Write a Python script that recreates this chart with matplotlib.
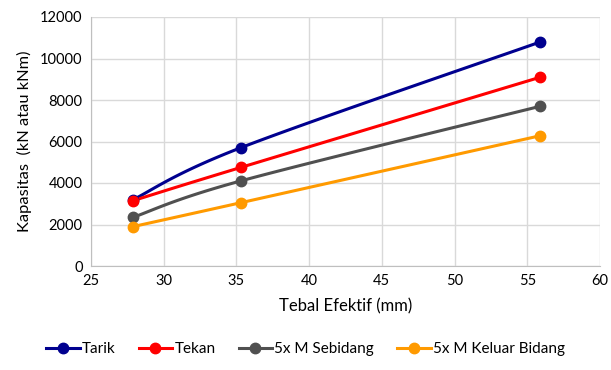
import numpy as np
import matplotlib
matplotlib.use("Agg")
import matplotlib.pyplot as plt

plt.rcParams['font.family'] = ['Lato', 'DejaVu Sans']

x_vals = [27.9, 35.3, 55.9]
tarik = [3200, 5700, 10800]
tekan = [3150, 4750, 9100]
sebidang = [2350, 4100, 7700]
keluar = [1900, 3050, 6280]
labels = ["Tarik", "Tekan", "5x M Sebidang", "5x M Keluar Bidang"]
colors = ["#00008F", "#FF0000", "#505050", "#FF9A00"]
x_ticks = [25, 30, 35, 40, 45, 50, 55, 60]
y_ticks = [0, 2000, 4000, 6000, 8000, 10000, 12000]


def smooth(xs, ys, n=40):
    xs = np.asarray(xs, float)
    ys = np.asarray(ys, float)
    pts = np.column_stack([xs, ys])
    out = [pts[0]]
    for i in range(len(pts) - 1):
        p0 = pts[i - 1] if i > 0 else pts[i]
        p1 = pts[i]
        p2 = pts[i + 1]
        p3 = pts[i + 2] if i + 2 < len(pts) else pts[i + 1]
        c1 = p1 + (p2 - p0) / 6.0
        c2 = p2 - (p3 - p1) / 6.0
        t = np.linspace(0, 1, n)[1:, None]
        seg = ((1 - t) ** 3) * p1 + 3 * ((1 - t) ** 2) * t * c1 + 3 * (1 - t) * t ** 2 * c2 + t ** 3 * p2
        out.extend(seg)
    out = np.array(out)
    return out[:, 0], out[:, 1]


fig = plt.figure(figsize=(6.11, 3.70), dpi=100)
ax = fig.add_axes([91 / 611, 1 - 266 / 370, (600 - 91) / 611, (266 - 17) / 370])

for ys, lab, col in zip([tarik, tekan, sebidang, keluar], labels, colors):
    sx, sy = smooth(x_vals, ys)
    ax.plot(sx, sy, color=col, lw=2.2, zorder=3)
    ax.plot(x_vals, ys, 'o', color=col, ms=7.5, zorder=4)
    ax.plot([], [], '-o', color=col, lw=2.2, ms=7.5, label=lab)

ax.set_xlim(25, 60)
ax.set_ylim(0, 12000)
ax.set_xticks(x_ticks)
ax.set_yticks(y_ticks)
ax.grid(True, color="#D9D9D9", lw=1)
ax.set_axisbelow(True)
for s in ['top', 'right']:
    ax.spines[s].set_visible(False)
for s in ['left', 'bottom']:
    ax.spines[s].set_color("#BFBFBF")
ax.tick_params(length=0, labelsize=10.5, colors="#000000", pad=6)
ax.set_xlabel("Tebal Efektif (mm)", fontsize=12, labelpad=7)
ax.set_ylabel("Kapasitas  (kN atau kNm)", fontsize=11.8, labelpad=6)

fig.legend(loc='lower center', bbox_to_anchor=(0.5, 0.0), ncol=4, frameon=False,
           fontsize=11, handlelength=2.2, columnspacing=1.5, handletextpad=0.15)

fig.savefig("out.png", dpi=100)
